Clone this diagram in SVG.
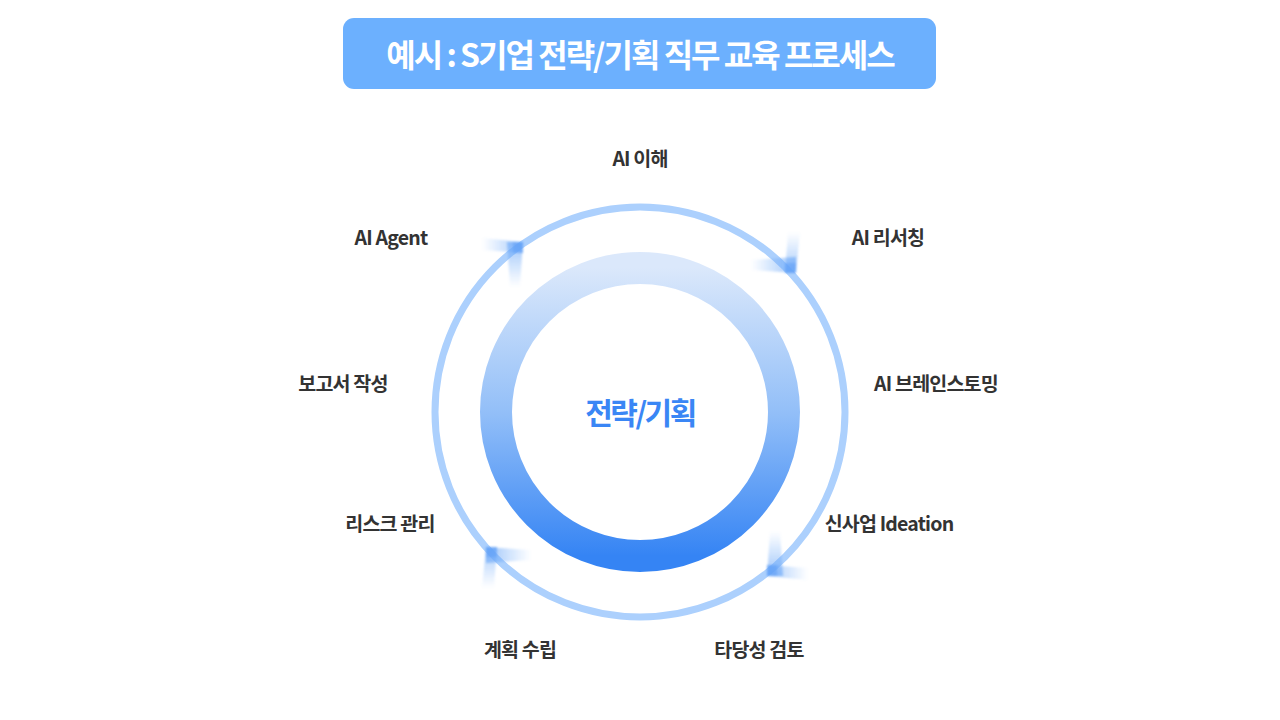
<svg xmlns="http://www.w3.org/2000/svg" width="1280" height="720" viewBox="0 0 1280 720">
  <defs>
    <linearGradient id="ringGrad" x1="0" y1="0" x2="0" y2="1">
      <stop offset="0" stop-color="#dbe8fb"/>
      <stop offset="0.5" stop-color="#93bff8"/>
      <stop offset="1" stop-color="#3584f4"/>
    </linearGradient>
    <linearGradient id="wingH" gradientUnits="userSpaceOnUse" x1="-40" y1="0" x2="0" y2="0">
      <stop offset="0" stop-color="#7ab2f9" stop-opacity="0"/>
      <stop offset="1" stop-color="#6aa7f8" stop-opacity="0.6"/>
    </linearGradient>
    <linearGradient id="wingV" gradientUnits="userSpaceOnUse" x1="0" y1="40" x2="0" y2="0">
      <stop offset="0" stop-color="#7ab2f9" stop-opacity="0"/>
      <stop offset="1" stop-color="#6aa7f8" stop-opacity="0.6"/>
    </linearGradient>
    <filter id="soft" x="-50%" y="-50%" width="200%" height="200%">
      <feGaussianBlur stdDeviation="0.8"/>
    </filter>
    <g id="arrowHead" filter="url(#soft)">
      <polygon points="1,-5 1,6 -40,3 -40,-9" fill="url(#wingH)"/>
      <polygon points="-15,-5 1,-5 -2,40 -12,40" fill="url(#wingV)"/>
      <rect x="-9" y="-5" width="10" height="11" fill="#5b9cf6" opacity="0.45"/>
    </g>
  </defs>
  <style>
    .lbl { font-family: "Noto Sans CJK KR", "Noto Sans", sans-serif; font-weight: 700; font-size: 19.5px; fill: #333333; letter-spacing: -0.8px; text-anchor: middle; dominant-baseline: central; }
    .title { font-family: "Noto Sans CJK KR", "Noto Sans", sans-serif; font-weight: 700; font-size: 32px; fill: #ffffff; letter-spacing: -2px; text-anchor: middle; dominant-baseline: central; }
    .center { font-family: "Noto Sans CJK KR", "Noto Sans", sans-serif; font-weight: 700; font-size: 30px; fill: #3a86f5; letter-spacing: -2.5px; text-anchor: middle; dominant-baseline: central; }
  </style>
  <rect width="1280" height="720" fill="#ffffff"/>

  <g id="title">
    <rect x="343" y="18" width="593" height="71" rx="11" fill="#6cb0fe"/>
    <text class="title" x="640" y="53">예시 : S기업 전략/기획 직무 교육 프로세스</text>
  </g>

  <g id="connectors">
    <circle cx="640" cy="412" r="205" fill="none" stroke="#acd0fd" stroke-width="7"/>
    <use href="#arrowHead" transform="translate(522,247)"/>
    <use href="#arrowHead" transform="translate(791,272) rotate(90)"/>
    <use href="#arrowHead" transform="translate(768,571) rotate(180)"/>
    <use href="#arrowHead" transform="translate(491,548) rotate(270)"/>
  </g>

  <g id="center">
    <circle cx="640" cy="412" r="144" fill="none" stroke="url(#ringGrad)" stroke-width="32"/>
    <text class="center" x="640" y="411">전략/기획</text>
  </g>

  <g id="n1"><text class="lbl" x="640" y="157">AI 이해</text></g>
  <g id="n2"><text class="lbl" x="888" y="236">AI 리서칭</text></g>
  <g id="n3"><text class="lbl" x="936" y="382">AI 브레인스토밍</text></g>
  <g id="n4"><text class="lbl" x="889" y="522">신사업 Ideation</text></g>
  <g id="n5"><text class="lbl" x="759" y="648">타당성 검토</text></g>
  <g id="n6"><text class="lbl" x="520" y="648">계획 수립</text></g>
  <g id="n7"><text class="lbl" x="390" y="522">리스크 관리</text></g>
  <g id="n8"><text class="lbl" x="343" y="382">보고서 작성</text></g>
  <g id="n9"><text class="lbl" x="391" y="236">AI Agent</text></g>
</svg>
